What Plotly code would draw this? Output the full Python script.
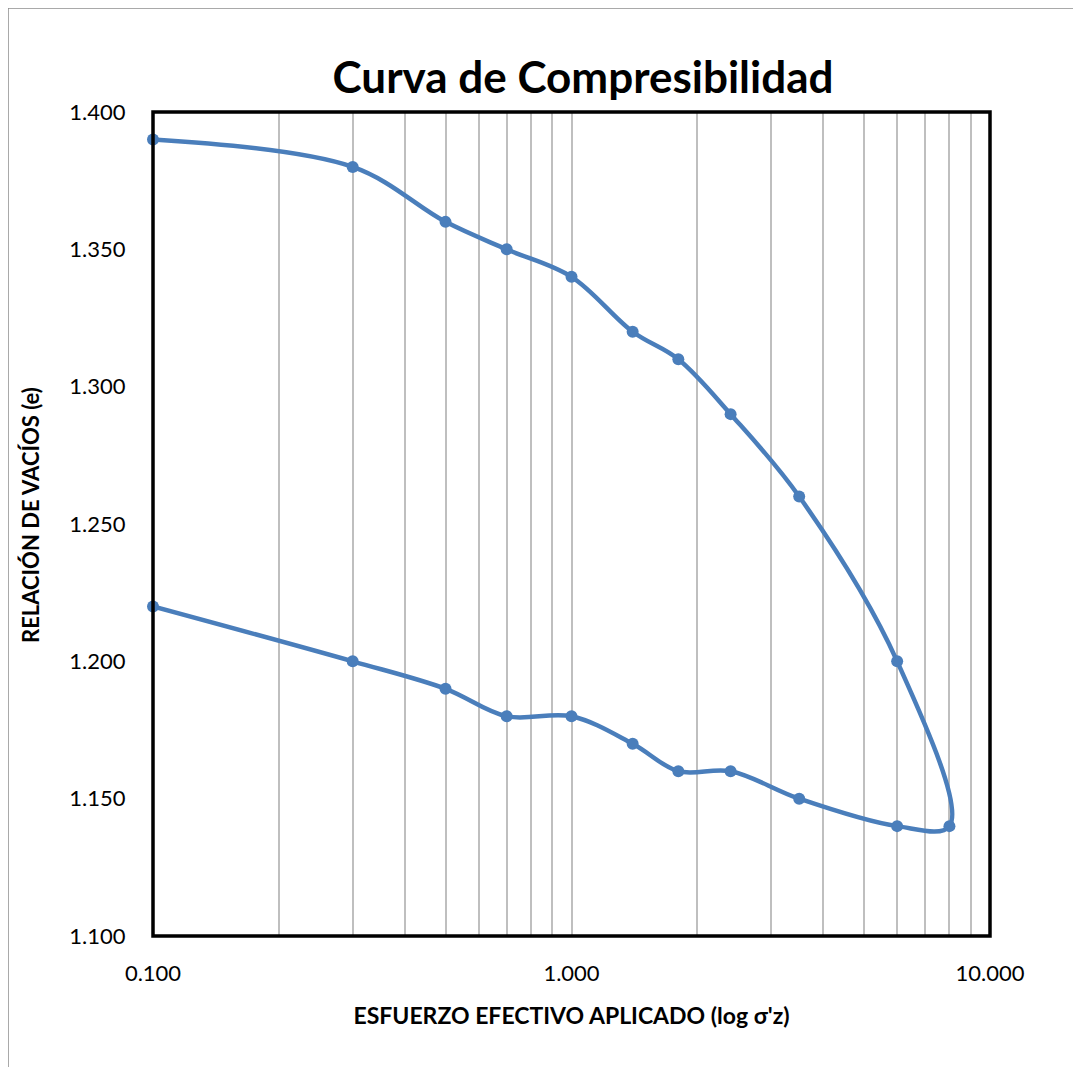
import plotly.graph_objects as go

# Data: loading then unloading (one continuous smoothed series)
esfuerzo = [0.1, 0.3, 0.5, 0.7, 1.0, 1.4, 1.8, 2.4, 3.5, 6.0, 8.0,
            6.0, 3.5, 2.4, 1.8, 1.4, 1.0, 0.7, 0.5, 0.3, 0.1]
relacion_vacios = [1.39, 1.38, 1.36, 1.35, 1.34, 1.32, 1.31, 1.29, 1.26, 1.20, 1.14,
                   1.14, 1.15, 1.16, 1.16, 1.17, 1.18, 1.18, 1.19, 1.20, 1.22]

x_grid_vals = [0.1, 0.2, 0.3, 0.4, 0.5, 0.6, 0.7, 0.8, 0.9,
               1, 2, 3, 4, 5, 6, 7, 8, 9, 10]
x_tick_text = ["0.100"] + [""] * 8 + ["1.000"] + [""] * 8 + ["10.000"]
y_tick_vals = [1.10, 1.15, 1.20, 1.25, 1.30, 1.35, 1.40]
y_tick_text = ["1.100", "1.150", "1.200", "1.250", "1.300", "1.350", "1.400"]

OFF = 8  # page body margin
W, H = 1081 - OFF, 1067 - OFF
L, R, T, B = 153 - OFF, 990 - OFF, 112 - OFF, 936 - OFF

fig = go.Figure()
fig.add_trace(go.Scatter(
    x=esfuerzo, y=relacion_vacios, mode="lines+markers",
    line=dict(color="#4A7EBB", width=4.5, shape="spline", smoothing=1),
    marker=dict(color="#4A7EBB", size=12),
    cliponaxis=False, showlegend=False,
))

font = "Lato, 'Open Sans', sans-serif"

def px_to_paper_x(px):
    return (px - OFF - L) / (R - L)

def px_to_paper_y(py):
    return (B - (py - OFF)) / (B - T)

fig.update_layout(
    width=W, height=H,
    margin=dict(l=L, r=W - R, t=T, b=H - B, pad=0),
    paper_bgcolor="white", plot_bgcolor="white",
    font=dict(family=font, color="black", size=22),
    title=dict(text="<b>Curva de Compresibilidad</b>", x=(583 - OFF) / W, xanchor="center",
               y=1 - (78 - OFF) / H, yanchor="middle", font=dict(size=44, family=font)),
    xaxis=dict(
        type="log", range=[-1, 1], tickvals=x_grid_vals, ticktext=x_tick_text,
        showgrid=True, gridcolor="#BFBFBF", gridwidth=1.5,
        ticks="outside", ticklen=18, tickcolor="rgba(0,0,0,0)",
        showline=False, zeroline=False,
        tickfont=dict(size=22),
        title=dict(text="<b>ESFUERZO EFECTIVO APLICADO (log σ'z)</b>",
                   font=dict(size=23), standoff=22),
    ),
    yaxis=dict(
        range=[1.10, 1.40], tickvals=y_tick_vals, ticktext=y_tick_text,
        showgrid=False, zeroline=False, showline=False,
        ticks="outside", ticklen=22, tickcolor="rgba(0,0,0,0)",
        tickfont=dict(size=22),
    ),
)

fig.add_annotation(
    text="<b>RELACIÓN DE VACÍOS (e)</b>", textangle=-90,
    xref="paper", yref="paper", x=px_to_paper_x(31), y=px_to_paper_y(515),
    xanchor="center", yanchor="middle", showarrow=False,
    font=dict(size=22, family=font, color="black"),
)

# Plot area frame
fig.add_shape(type="rect", xref="paper", yref="paper", x0=0, x1=1, y0=0, y1=1,
              line=dict(color="black", width=3.5), layer="above")

# Outer chart border (cropped: only left and top visible)
fig.add_shape(type="line", xref="paper", yref="paper",
              x0=px_to_paper_x(8), x1=px_to_paper_x(8),
              y0=px_to_paper_y(8), y1=px_to_paper_y(1090),
              line=dict(color="#8C8C8C", width=1.5))
fig.add_shape(type="line", xref="paper", yref="paper",
              x0=px_to_paper_x(8), x1=px_to_paper_x(1100),
              y0=px_to_paper_y(8), y1=px_to_paper_y(8),
              line=dict(color="#8C8C8C", width=1.5))

fig.write_html("out.html")
